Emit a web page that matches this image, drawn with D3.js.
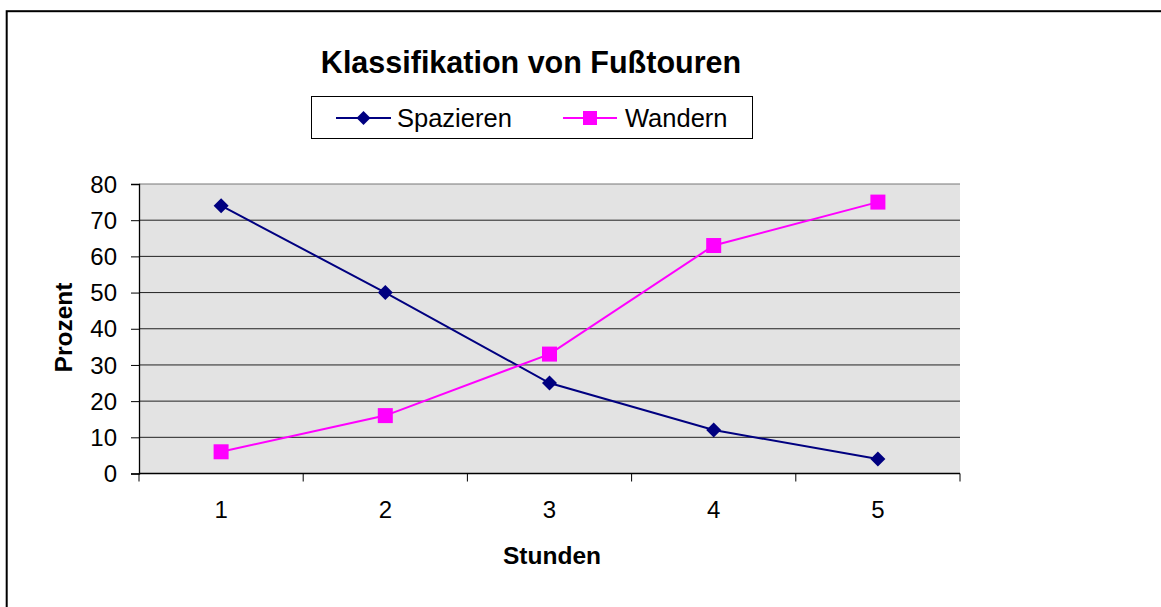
<!DOCTYPE html>
<html><head><meta charset="utf-8">
<script src="https://cdn.jsdelivr.net/npm/d3@7"></script>
<style>
html,body{margin:0;padding:0;background:#fff;}
svg{display:block;font-family:"Liberation Sans",Arial,sans-serif;}
</style></head>
<body>
<svg id="chart" width="1161" height="607"></svg>
<script>
const categories = ["1","2","3","4","5"];
const spazieren = [74, 50, 25, 12, 4];
const wandern = [6, 16, 33, 63, 75];
const yTicks = [0,10,20,30,40,50,60,70,80];
const seriesNames = ["Spazieren","Wandern"];

const svg = d3.select("#chart");
const W = 1161, H = 607;
const plot = {left:139, right:960, top:184, bottom:473.5};

// outer frame
svg.append("rect").attr("x",6.7).attr("y",11.2).attr("width",1300).attr("height",800)
  .attr("fill","#fff").attr("stroke","#000").attr("stroke-width",2);

const x = d3.scaleBand().domain(categories).range([plot.left, plot.right]).padding(0);
const y = d3.scaleLinear().domain([0,80]).range([plot.bottom, plot.top]);

// plot background
svg.append("rect").attr("x",plot.left).attr("y",plot.top)
  .attr("width",plot.right-plot.left).attr("height",plot.bottom-plot.top)
  .attr("fill","#e3e3e3");

// gridlines
svg.append("g").selectAll("line").data(yTicks.filter(d=>d>0)).join("line")
  .attr("x1",plot.left).attr("x2",plot.right)
  .attr("y1",d=>y(d)).attr("y2",d=>y(d))
  .attr("stroke",d=>d===80?"#777":"#222").attr("stroke-width",1);

// y axis
const yAxis = d3.axisLeft(y).tickValues(yTicks).tickSize(8).tickPadding(14);
const gy = svg.append("g").attr("transform",`translate(${plot.left},0)`).call(yAxis);
gy.select(".domain").attr("stroke","#000").attr("stroke-width",1.3);
gy.selectAll(".tick line").attr("stroke","#000");
gy.selectAll(".tick text").attr("font-size",24).attr("fill","#000").attr("font-family","Liberation Sans, Arial, sans-serif").attr("dy","0.34em");

// x axis
const xAxis = d3.axisBottom(x).tickSize(0).tickPadding(0);
const gx = svg.append("g").attr("transform",`translate(0,${plot.bottom})`).call(xAxis);
gx.select(".domain").remove();
gx.selectAll(".tick text").attr("font-size",24).attr("fill","#000")
  .attr("font-family","Liberation Sans, Arial, sans-serif").attr("y",44.5).attr("dy",0);
// x ticks at band boundaries
const bounds = categories.map(c=>x(c)).concat([plot.right]);
svg.append("g").selectAll("line").data(bounds).join("line")
  .attr("x1",d=>d).attr("x2",d=>d).attr("y1",plot.bottom).attr("y2",plot.bottom+8)
  .attr("stroke","#000").attr("stroke-width",1);
svg.append("line").attr("x1",plot.left).attr("x2",plot.right)
  .attr("y1",plot.bottom).attr("y2",plot.bottom).attr("stroke","#000").attr("stroke-width",1.3);

// lines
const cx = c => x(c) + x.bandwidth()/2;
const line = d3.line().x((d,i)=>cx(categories[i])).y(d=>y(d));
svg.append("path").datum(spazieren).attr("d",line).attr("fill","none")
  .attr("stroke","#000080").attr("stroke-width",2);
svg.append("path").datum(wandern).attr("d",line).attr("fill","none")
  .attr("stroke","#ff00ff").attr("stroke-width",2);

const diamond = (px,py,s)=>`M${px},${py-s}L${px+s},${py}L${px},${py+s}L${px-s},${py}Z`;
svg.append("g").selectAll("path").data(spazieren).join("path")
  .attr("d",(d,i)=>diamond(cx(categories[i]),y(d),7.5)).attr("fill","#000080");
svg.append("g").selectAll("rect").data(wandern).join("rect")
  .attr("x",(d,i)=>cx(categories[i])-7.5).attr("y",d=>y(d)-7.5)
  .attr("width",15).attr("height",15).attr("fill","#ff00ff");

// title
svg.append("text").attr("x",531).attr("y",73).attr("text-anchor","middle")
  .attr("font-size",30.5).attr("font-weight","bold").text("Klassifikation von Fußtouren");

// axis titles
svg.append("text").attr("x",552).attr("y",564).attr("text-anchor","middle")
  .attr("font-size",24.5).attr("font-weight","bold").text("Stunden");
svg.append("text").attr("transform","translate(71.5,327.5) rotate(-90)").attr("text-anchor","middle")
  .attr("font-size",24.5).attr("font-weight","bold").text("Prozent");

// legend
const lg = svg.append("g");
lg.append("rect").attr("x",311.5).attr("y",96.5).attr("width",441).attr("height",42)
  .attr("fill","#fff").attr("stroke","#000").attr("stroke-width",1);
const legendItems = [
  {name:seriesNames[0], color:"#000080", shape:"diamond", x1:336, x2:391, tx:397},
  {name:seriesNames[1], color:"#ff00ff", shape:"square", x1:563, x2:617, tx:625}
];
legendItems.forEach(it=>{
  const my = 118;
  lg.append("line").attr("x1",it.x1).attr("x2",it.x2).attr("y1",my).attr("y2",my)
    .attr("stroke",it.color).attr("stroke-width",2);
  const mx = (it.x1+it.x2)/2;
  if(it.shape==="diamond") lg.append("path").attr("d",diamond(mx,my,7)).attr("fill",it.color);
  else lg.append("rect").attr("x",mx-7).attr("y",my-7).attr("width",14).attr("height",14).attr("fill",it.color);
  lg.append("text").attr("x",it.tx).attr("y",my+9).attr("font-size",25.5).text(it.name);
});
</script>
</body></html>
